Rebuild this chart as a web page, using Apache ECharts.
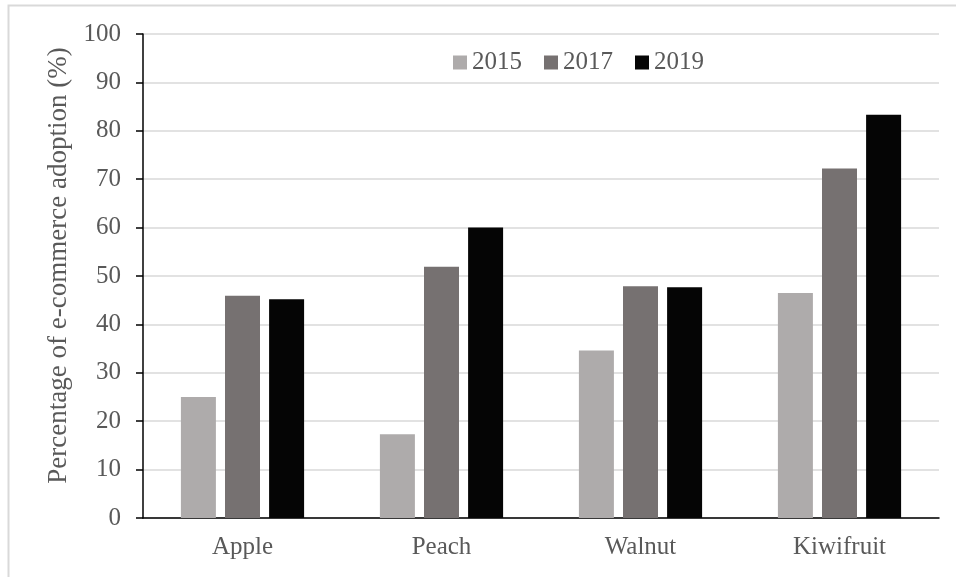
<!DOCTYPE html>
<html>
<head>
<meta charset="utf-8">
<script src="https://cdn.jsdelivr.net/npm/echarts@6/dist/echarts.min.js"></script>
<style>
html,body{margin:0;padding:0;background:#fff;}
#chart{width:956px;height:577px;}
</style>
</head>
<body>
<div id="chart"></div>
<script>
var categories = ['Apple', 'Peach', 'Walnut', 'Kiwifruit'];
var seriesNames = ['2015', '2017', '2019'];
var values2015 = [25.0, 17.3, 34.6, 46.5];
var values2017 = [45.9, 51.9, 47.9, 72.2];
var values2019 = [45.2, 60.0, 47.7, 83.3];
var yTicks = [0, 10, 20, 30, 40, 50, 60, 70, 80, 90, 100];
var yAxisTitle = 'Percentage of e-commerce adoption (%)';

var colors = ['#aeabab', '#767171', '#050505'];
var font = '"Liberation Serif", "Times New Roman", serif';
var textColor = '#595959';
var chart = echarts.init(document.getElementById('chart'));
var allValues = [values2015, values2017, values2019];

chart.setOption({
  animation: false,
  color: colors,
  graphic: [{
    type: 'rect',
    shape: {x: 8.5, y: 5.5, width: 1000, height: 700},
    style: {fill: 'none', stroke: '#d9d9d9', lineWidth: 2},
    silent: true
  }],
  grid: {left: 143, right: 17, top: 34, bottom: 59, containLabel: false},
  legend: {
    data: seriesNames,
    left: 453,
    top: 50,
    itemWidth: 14,
    itemHeight: 14,
    itemGap: 22,
    icon: 'rect',
    textStyle: {fontFamily: font, fontSize: 25, color: textColor, padding: [0, 0, 0, 0]},
    padding: 0
  },
  xAxis: {
    type: 'category',
    data: categories,
    axisLine: {show: true, lineStyle: {color: '#000', width: 1.5}},
    axisTick: {show: false},
    axisLabel: {fontFamily: font, fontSize: 25, color: textColor, margin: 17},
    splitLine: {show: false}
  },
  yAxis: {
    type: 'value',
    min: yTicks[0],
    max: yTicks[yTicks.length - 1],
    interval: 10,
    name: yAxisTitle,
    nameLocation: 'middle',
    nameGap: 71,
    nameRotate: 90,
    nameTextStyle: {fontFamily: font, fontSize: 27, color: textColor, padding: [0, 0, 0, 21]},
    axisLine: {show: true, lineStyle: {color: '#000', width: 1.5}},
    axisTick: {show: true, inside: false, length: 7, lineStyle: {color: '#000', width: 1.5}},
    axisLabel: {fontFamily: font, fontSize: 25, color: textColor, margin: 22},
    splitLine: {show: true, lineStyle: {color: '#d9d9d9', width: 1.5}}
  },
  series: seriesNames.map(function (n, i) {
    return {
      name: n,
      type: 'bar',
      data: allValues[i],
      barWidth: 35,
      barGap: '26%',
      itemStyle: {color: colors[i]}
    };
  })
});
</script>
</body>
</html>
